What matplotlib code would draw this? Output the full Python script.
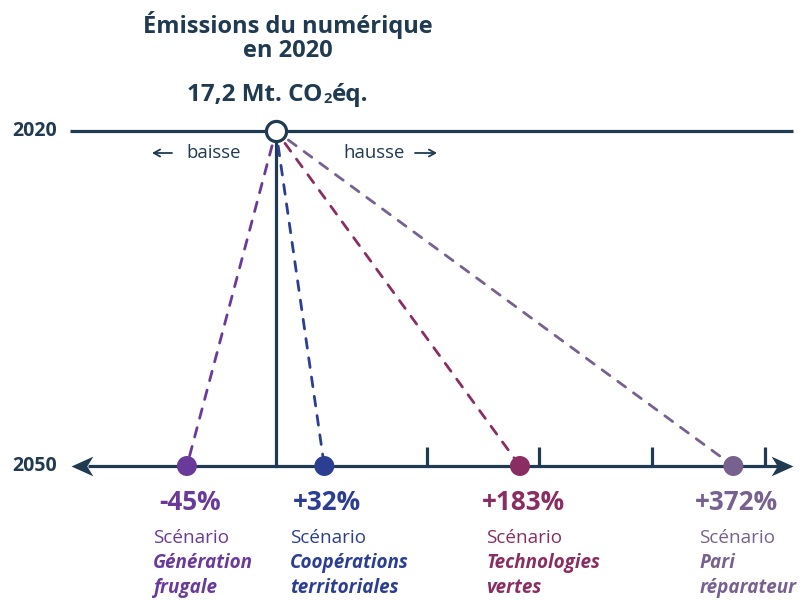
import numpy as np
import matplotlib.pyplot as plt
from matplotlib.path import Path

plt.rcParams['font.family'] = ['Open Sans', 'DejaVu Sans']

# scénarios 2050 : variation des émissions par rapport à 2020 (%)
scenarios = ['Génération', 'Coopérations', 'Technologies', 'Pari']
scenarios_l2 = ['frugale', 'territoriales', 'vertes', 'réparateur']
variations = [-45, 32, 183, 372]
colors = ['#6a3a9b', '#2b3e92', '#8a2d62', '#77618f']
ticks_pct = [100, 200, 300, 400]
year_start, year_end = 2020, 2050
total_2020 = ['17,2 Mt. CO', '2', 'éq.']

NAVY = '#1f3a51'

# axe schématique : linéaire par morceaux (plus large entre 0 et +100 %)
bp_pct = np.array([-200, -100, 0, 100, 200, 300, 400, 500])
bp_px = np.array([-120, 78, 276, 427, 539, 652, 765, 877.5])


def fwd(x):
    return np.interp(x, bp_pct, bp_px)


def inv(u):
    return np.interp(u, bp_px, bp_pct)


fig = plt.figure(figsize=(8.02, 6), dpi=100)
ax = fig.add_axes([0, 0, 1, 1])
ax.set_xscale('function', functions=(fwd, inv))
ax.set_xlim(inv(0), inv(802))
ax.set_ylim(2062.0, 2008.27)
ax.axis('off')

# ligne 2020
ax.plot([-104, 425], [year_start, year_start], color=NAVY, lw=2.3,
        solid_capstyle='butt', zorder=2)
# ligne verticale
ax.plot([0, 0], [year_start, year_end], color=NAVY, lw=2.3, zorder=2)

# axe 2050 avec pointes de flèche concaves
ax.plot([-95, 412], [year_end, year_end], color=NAVY, lw=2.3,
        solid_capstyle='butt', zorder=2)
head = Path([(0, 0), (1, 0.45), (0.72, 0), (1, -0.45), (0, 0)],
            [Path.MOVETO, Path.LINETO, Path.LINETO, Path.LINETO, Path.CLOSEPOLY])
head_r = Path([(0, 0), (-1, 0.45), (-0.72, 0), (-1, -0.45), (0, 0)],
              [Path.MOVETO, Path.LINETO, Path.LINETO, Path.LINETO, Path.CLOSEPOLY])
ax.plot(-103.5, year_end, marker=head, ms=31.5, color=NAVY, mew=0, zorder=3)
ax.plot(425, year_end, marker=head_r, ms=31.5, color=NAVY, mew=0, zorder=3)

for t in ticks_pct:
    ax.plot([t, t], [year_end - 1.7, year_end], color=NAVY, lw=2.3,
            solid_capstyle='butt', zorder=2)

# liaisons pointillées
for v, c in zip(variations, colors):
    ax.annotate('', xy=(v, year_end), xytext=(0, year_start),
                arrowprops=dict(arrowstyle='-', color=c, lw=2,
                                linestyle=(0, (3.5, 3.5)),
                                shrinkA=11, shrinkB=6))

ax.scatter(variations, [year_end] * len(variations), s=207, c=colors,
           zorder=6, linewidths=0)
ax.plot(0, year_start, 'o', ms=14.5, mfc='white', mec=NAVY, mew=2.3, zorder=7)

# étiquettes des scénarios
for v, n1, n2, c in zip(variations, scenarios, scenarios_l2, colors):
    ax.annotate(f'{v:+d}%', xy=(v, year_end), xytext=(3, -37),
                textcoords='offset pixels', ha='center', va='center',
                fontsize=18.8, fontweight='bold', color=c)
    ax.annotate('Scénario', xy=(v, year_end), xytext=(-34, -72),
                textcoords='offset pixels', ha='left', va='center',
                fontsize=13.6, color=c)
    for k, s in enumerate([n1, n2]):
        ax.annotate(s, xy=(v, year_end), xytext=(-34, -97 - 25 * k),
                    textcoords='offset pixels', ha='left', va='center',
                    fontsize=13.6, fontweight='bold', fontstyle='italic',
                    color=c)

# années
yt = ax.get_yaxis_transform()
for yr in (year_start, year_end):
    ax.text(35 / 802, yr, str(yr), transform=yt, ha='center', va='center',
            fontsize=14, fontweight='bold', color=NAVY)

# titre et valeur 2020
ax.annotate('Émissions du numérique\nen 2020', xy=(0, year_start),
            xytext=(12, 131 - 37), textcoords='offset pixels', ha='center',
            va='center', fontsize=17, fontweight='bold', color=NAVY,
            linespacing=1.0)
t1 = ax.annotate(total_2020[0], xy=(0, year_start), xytext=(-89, 30),
                 textcoords='offset pixels', ha='left', va='baseline',
                 fontsize=17.5, fontweight='bold', color=NAVY)
t2 = ax.annotate(total_2020[1], xy=(1, 0), xycoords=t1, xytext=(1, 1),
                 textcoords='offset pixels', ha='left', va='bottom',
                 fontsize=10.5, fontweight='bold', color=NAVY)
ax.annotate(total_2020[2], xy=(1, 0), xycoords=(t2, t1), xytext=(0, 0),
            textcoords='offset pixels', ha='left', va='bottom',
            fontsize=17.5, fontweight='bold', color=NAVY)

# baisse / hausse
ax.annotate('baisse', xy=(0, year_start), xytext=(-62, -22),
            textcoords='offset pixels', ha='center', va='center',
            fontsize=13.3, color=NAVY)
ax.annotate('hausse', xy=(0, year_start), xytext=(98, -22),
            textcoords='offset pixels', ha='center', va='center',
            fontsize=13.3, color=NAVY)
for x0, x1 in ((172, 152), (415, 437)):
    ax.annotate('', xy=(x1, 600 - 153), xytext=(x0, 600 - 153),
                xycoords='figure pixels', textcoords='figure pixels',
                arrowprops=dict(arrowstyle='->,head_length=0.45,head_width=0.25',
                                color=NAVY, lw=1.3, shrinkA=0, shrinkB=0))

fig.savefig('out.png', dpi=100)
